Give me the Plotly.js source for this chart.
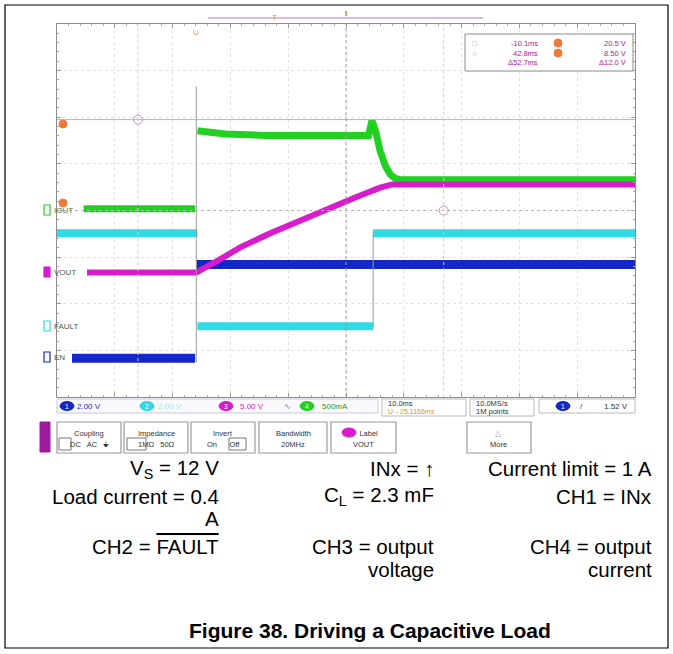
<!DOCTYPE html>
<html><head><meta charset="utf-8">
<script src="https://cdn.plot.ly/plotly-3.0.1.min.js"></script>
<style>html,body{margin:0;padding:0;background:#fff;}#chart{width:673px;height:654px;}</style>
</head><body><div id="chart"></div>
<script>
// ---- data (time in ms relative to trigger, amplitude in screen divisions) ----
const tEn    = [-21.5, -0.2, null, 0.0, 75.9];
const enDiv  = [-3.17, -3.17, null, -1.16, -1.16];
const tFault = [-24.1, 0.2, null, 0.2, 30.6, null, 30.6, 75.9];
const faultDiv = [-0.49, -0.49, null, -2.48, -2.48, null, -0.49, -0.49];
const tVout  = [-18.9, 0.0, 3.8, 7.6, 12.8, 18.0, 23.2, 27.5, 31.8, 33.9, 75.9];
const voutDiv = [-1.33, -1.33, -1.07, -0.79, -0.49, -0.21, 0.06, 0.28, 0.49, 0.56, 0.56];
const tIout  = [-19.5, -0.2, null, 0.2, 5.0, 12.0, 20.0, 27.0, 29.8, 30.4, 31.0, 31.8, 32.7, 33.6, 34.4, 35.3, 40.0, 75.9];
const ioutDiv = [0.04, 0.04, null, 1.71, 1.64, 1.61, 1.60, 1.60, 1.61, 1.93, 1.71, 1.28, 0.96, 0.77, 0.69, 0.66, 0.66, 0.66];
const tEdge  = [0.0, 0.0, null, 30.6, 30.6];
const edgeDiv = [2.66, -3.25, null, -0.45, -2.50];
const cursorT = [-10.1, 42.8];
const cursorDiv = [1.95, 0.0];
const channelNames = ["EN", "FAULT", "VOUT", "IOUT"];
const channelScales = ["2.00 V", "2.00 V", "5.00 V", "500mA"];
const cursorReadout = [["-10.1ms", "20.5 V"], ["42.8ms", "8.50 V"], ["Δ52.7ms", "Δ12.0 V"]];
const captionRows = [
  ["V<sub>S</sub> = 12 V", "INx = ↑", "Current limit = 1 A"],
  ["Load current = 0.4", "C<sub>L</sub> = 2.3 mF", "CH1 = INx"],
  ["A", "", ""],
  ["CH2 = <span style=\"text-decoration:overline\">FAULT</span>", "CH3 = output", "CH4 = output"],
  ["", "voltage", "current"]
];
const figTitle = "Figure 38. Driving a Capacitive Load";

// ---- colours ----
const C = {blue:"#1428c8", cyan:"#2edae4", mag:"#d81ccc", green:"#22d022", lav:"#c7a6d6", orange:"#f07838"};

// ---- pixel helpers for the decoration layer ----
const L = 57, R = 635, T = 24, B = 397;
const px = v => (v - L) / (R - L);
const py = v => (B - v) / (B - T);
const FONT = "Liberation Sans, Arial, sans-serif";

const shapes = [];
const annotations = [];
function rectPx(x0, y0, x1, y1, line, fill, w, extra) {
  shapes.push(Object.assign({type:"rect", xref:"paper", yref:"paper", x0:px(x0), x1:px(x1), y0:py(y1), y1:py(y0),
    line:{color:line, width:w === undefined ? 1 : w}, fillcolor:fill || "rgba(0,0,0,0)", layer:"above"}, extra || {}));
}
function ovalPx(x0, y0, x1, y1, fill) {
  shapes.push({type:"circle", xref:"paper", yref:"paper", x0:px(x0), x1:px(x1), y0:py(y1), y1:py(y0),
    line:{color:fill, width:1}, fillcolor:fill, layer:"above"});
}
function linePx(x0, y0, x1, y1, color, w, dash) {
  shapes.push({type:"line", xref:"paper", yref:"paper", x0:px(x0), x1:px(x1), y0:py(y0), y1:py(y1),
    line:{color:color, width:w, dash:dash || "solid"}, layer:"above"});
}
function textPx(x, y, text, size, color, anchor, extra) {
  annotations.push(Object.assign({xref:"paper", yref:"paper", x:px(x), y:py(y), text:text, showarrow:false,
    xanchor:anchor || "left", yanchor:"middle", font:{family:FONT, size:size, color:color}}, extra || {}));
}

// ---- cursors (data coords) ----
shapes.push({type:"line", xref:"paper", yref:"y", x0:0, x1:1, y0:cursorDiv[0], y1:cursorDiv[0], line:{color:C.lav, width:1}});
shapes.push({type:"line", xref:"paper", yref:"y", x0:0, x1:1, y0:cursorDiv[1], y1:cursorDiv[1], line:{color:C.lav, width:1, dash:"dot"}});
shapes.push({type:"line", xref:"x", yref:"paper", x0:cursorT[0], x1:cursorT[0], y0:0, y1:1, line:{color:"#d6c6de", width:1, dash:"dot"}});
shapes.push({type:"line", xref:"x", yref:"paper", x0:cursorT[1], x1:cursorT[1], y0:0, y1:1, line:{color:"#d6c6de", width:1, dash:"dot"}});
// centre graticule line
shapes.push({type:"line", xref:"paper", yref:"paper", x0:0.5, x1:0.5, y0:0, y1:1, line:{color:"#9a9a9a", width:1, dash:"dot"}});

// ---- top record bar and markers ----
linePx(208, 18, 483, 18, "#c9a6d8", 1.5);
textPx(274, 18, "T", 8, "#d89a10", "center");
linePx(346, 11, 346, 16, "#e08020", 1.5);
textPx(196, 32, "U", 8, "#e8a030", "center");

// ---- cursor readout box ----
rectPx(465, 34, 633, 71, "#8a8a8a", "#ffffff", 1);
textPx(470, 43, "□", 8, "#c090d0", "left");
textPx(470, 53, "○", 8, "#c090d0", "left");
for (let i = 0; i < cursorReadout.length; i++) {
  textPx(540, 43 + 10 * i, cursorReadout[i][0], 7.5, "#b020a0", "right");
  textPx(628, 43 + 10 * i, cursorReadout[i][1], 7.5, "#b020a0", "right");
}
ovalPx(554, 39, 562, 47, C.orange);
ovalPx(554, 49, 562, 57, C.orange);

// ---- left-edge orange cursor markers ----
ovalPx(59, 120, 67, 128, C.orange);
ovalPx(59, 199, 67, 207, C.orange);

// ---- channel labels on the left ----
const labelY = [357, 326, 272, 210];
const labelCol = [C.blue, C.cyan, C.mag, C.green];
for (let i = 0; i < 4; i++) {
  rectPx(44, labelY[i] - 5, 50, labelY[i] + 5, labelCol[i], i === 2 ? labelCol[i] : "rgba(0,0,0,0)", 1.2);
  textPx(52, labelY[i], channelNames[i], 8, i === 3 ? "#4a7a4a" : "#555", "left");
}

// ---- bottom toolbar row 1 ----
rectPx(57, 399, 378, 413, "#c8c8dc", "#fafafd", 1);
const chipX = [60, 140, 219, 300];
const chipTextX = [75, 156, 238, 320];
const chipTextCol = [C.blue, "#9fe6ec", C.mag, "#22a022"];
for (let i = 0; i < 4; i++) {
  ovalPx(chipX[i], 401.5, chipX[i] + 14, 410.5, labelCol[i]);
  textPx(chipX[i] + 7, 406, String(i + 1), 6.5, "#ffffff", "center");
  textPx(chipTextX[i], 406, channelScales[i], 8, chipTextCol[i], "left");
}
textPx(282, 406, "∿", 8, "#8a6a9a", "left");
rectPx(382, 399, 466, 416, "#b8b8b8", "#ffffff", 1);
textPx(386, 403, "10.0ms", 7.5, "#333", "left");
textPx(386, 411, "U→25.1166ms", 7, "#e09020", "left");
rectPx(470, 399, 534, 416, "#b8b8b8", "#ffffff", 1);
textPx(474, 403, "10.0MS/s", 7.5, "#333", "left");
textPx(474, 411, "1M points", 7.5, "#333", "left");
rectPx(539, 399, 635, 413, "#b8b8b8", "#ffffff", 1);
ovalPx(556, 401.5, 570, 410.5, C.blue);
textPx(563, 406, "1", 6.5, "#ffffff", "center");
textPx(578, 406, "/", 8, "#333", "left");
textPx(630, 406, "1.52 V", 8, "#333", "right");

// ---- bottom toolbar row 2 (buttons) ----
rectPx(40, 422, 50, 452, "#9c1c9c", "#9c1c9c", 1);
const btns = [
  [57, 121, "Coupling", "DC   AC   ⏚"],
  [124, 188, "Impedance", "1MΩ   50Ω"],
  [191, 255, "Invert", "On      Off"],
  [259, 327, "Bandwidth", "20MHz"],
  [331, 396, "     Label", "VOUT"],
  [467, 531, "△", "More"]
];
btns.forEach(b => {
  rectPx(b[0], 422, b[1], 453, "#9a9a9a", "#ffffff", 1.2);
  textPx((b[0] + b[1]) / 2, 433, b[2], 7.5, b[2] === "△" ? "#aaa" : "#333", "center");
  textPx((b[0] + b[1]) / 2, 444, b[3], 7.5, "#333", "center");
});
rectPx(59, 438, 71, 450, "#777", "rgba(0,0,0,0)", 1);
rectPx(127, 438, 146, 450, "#777", "rgba(0,0,0,0)", 1);
rectPx(229, 438, 246, 450, "#777", "rgba(0,0,0,0)", 1);
ovalPx(342, 428, 356, 437, C.mag);

// ---- caption ----
const colRight = [221, 436, 654];
const rowY = [469, 496, 518, 546, 569];
captionRows.forEach((row, r) => row.forEach((txt, c) => {
  if (txt) textPx(colRight[c], rowY[r], txt, 20.5, "#000", "right");
}));
textPx(370, 630, "<b>" + figTitle + "</b>", 21, "#000", "center");

// ---- outer border ----
rectPx(5, 5, 668, 648, "#000", "rgba(0,0,0,0)", 1.2, {layer:"below"});

// ---- traces ----
const traces = [
  {x:tFault, y:faultDiv, mode:"lines", line:{color:C.cyan, width:8}, connectgaps:false, name:"FAULT"},
  {x:tEn, y:enDiv, mode:"lines", line:{color:C.blue, width:9}, connectgaps:false, name:"EN"},
  {x:tIout, y:ioutDiv, mode:"lines", line:{color:C.green, width:7}, connectgaps:false, name:"IOUT"},
  {x:tVout, y:voutDiv, mode:"lines", line:{color:C.mag, width:6}, name:"VOUT"},
  {x:tEdge, y:edgeDiv, mode:"lines", line:{color:"#9a9a9a", width:1}, connectgaps:false, name:"edge"},
  {x:cursorT, y:cursorDiv, mode:"markers", marker:{symbol:"circle-open", size:9, color:"#c090d0", line:{width:1}}, name:"cursor"}
];

const axisBase = {showticklabels:false, zeroline:false, showline:true, linecolor:"#8c8c8c", linewidth:1, mirror:"allticks",
  ticks:"inside", ticklen:4, tickcolor:"#999", showgrid:true, gridcolor:"#e2e2e2", griddash:"dot", fixedrange:true};
const layout = {
  width:673, height:654, margin:{l:L, r:673 - R, t:T, b:654 - B, pad:0},
  paper_bgcolor:"#ffffff", plot_bgcolor:"#ffffff", showlegend:false,
  xaxis:Object.assign({}, axisBase, {range:[-24.1, 75.9], tick0:-24.1, dtick:10,
    minor:{ticks:"inside", ticklen:2, dtick:2, tick0:-24.1, tickcolor:"#aaa", showgrid:false}}),
  yaxis:Object.assign({}, axisBase, {range:[-4, 4], tick0:-4, dtick:1,
    minor:{ticks:"inside", ticklen:2, dtick:0.2, tick0:-4, tickcolor:"#aaa", showgrid:false}}),
  shapes:shapes, annotations:annotations, font:{family:FONT}
};
Plotly.newPlot("chart", traces, layout, {displayModeBar:false, staticPlot:true});
</script></body></html>
